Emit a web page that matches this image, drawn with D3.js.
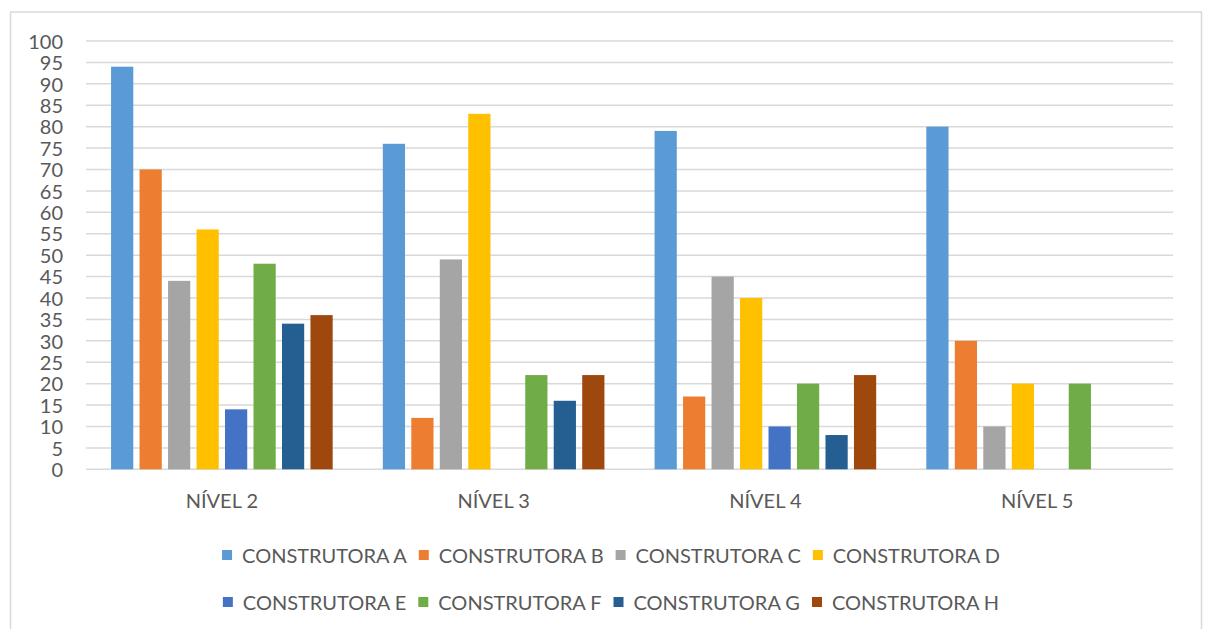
<!DOCTYPE html>
<html>
<head>
<meta charset="utf-8">
<script src="https://cdn.jsdelivr.net/npm/d3@7"></script>
<style>
  html, body { margin: 0; padding: 0; background: #ffffff; }
  svg { display: block; }
  text { font-family: Lato, "Open Sans", sans-serif; fill: #595959; }
</style>
</head>
<body>
<svg id="chart" width="1207" height="629"></svg>
<script>
// Categories (groups on the x axis)
const categories = ["NÍVEL 2", "NÍVEL 3", "NÍVEL 4", "NÍVEL 5"];

// Series names and colours
const seriesNames = [
  "CONSTRUTORA A", "CONSTRUTORA B", "CONSTRUTORA C", "CONSTRUTORA D",
  "CONSTRUTORA E", "CONSTRUTORA F", "CONSTRUTORA G", "CONSTRUTORA H"
];
const seriesColors = [
  "#5B9BD5", "#ED7D31", "#A5A5A5", "#FFC000",
  "#4472C4", "#70AD47", "#255E91", "#9E480E"
];

// Values per series, one entry per category (NÍVEL 2..5)
const construtoraA = [94, 76, 79, 80];
const construtoraB = [70, 12, 17, 30];
const construtoraC = [44, 49, 45, 10];
const construtoraD = [56, 83, 40, 20];
const construtoraE = [14, 0, 10, 0];
const construtoraF = [48, 22, 20, 20];
const construtoraG = [34, 16, 8, 0];
const construtoraH = [36, 22, 22, 0];

// Y axis ticks
const yTicks = [0, 5, 10, 15, 20, 25, 30, 35, 40, 45, 50, 55, 60, 65, 70, 75, 80, 85, 90, 95, 100];

const seriesValues = [
  construtoraA, construtoraB, construtoraC, construtoraD,
  construtoraE, construtoraF, construtoraG, construtoraH
];

const svg = d3.select("#chart");

// Outer chart frame
svg.append("rect")
  .attr("x", 10.5).attr("y", 12)
  .attr("width", 1191).attr("height", 640)
  .attr("fill", "none")
  .attr("stroke", "#d9d9d9")
  .attr("stroke-width", 1.5);

const plot = { left: 86, right: 1173, top: 41, bottom: 469.3 };

const x0 = d3.scaleBand()
  .domain(categories)
  .range([plot.left, plot.right])
  .paddingInner(0).paddingOuter(0);

const x1 = d3.scaleBand()
  .domain(seriesNames)
  .range([0, x0.bandwidth()])
  .paddingInner(0.22)
  .paddingOuter(0.88);

const y = d3.scaleLinear()
  .domain([0, 100])
  .range([plot.bottom, plot.top]);

// Horizontal gridlines
svg.append("g")
  .selectAll("line")
  .data(yTicks)
  .join("line")
  .attr("x1", plot.left).attr("x2", plot.right)
  .attr("y1", d => y(d)).attr("y2", d => y(d))
  .attr("stroke", "#d9d9d9")
  .attr("stroke-width", 1.5);

// Y axis tick labels
const yAxis = d3.axisLeft(y).tickValues(yTicks).tickSize(0).tickPadding(0);
const yG = svg.append("g")
  .attr("transform", "translate(63,0)")
  .call(yAxis);
yG.select(".domain").remove();
yG.selectAll("text")
  .attr("font-size", 20)
  .attr("font-family", "Lato, sans-serif")
  .attr("fill", "#595959")
  .attr("dy", "0.36em");

// Bars
const groups = svg.append("g")
  .selectAll("g")
  .data(categories)
  .join("g")
  .attr("transform", c => `translate(${x0(c)},0)`);

groups.selectAll("rect")
  .data((c, ci) => seriesNames.map((s, si) => ({ s, si, v: seriesValues[si][ci] })))
  .join("rect")
  .attr("x", d => x1(d.s))
  .attr("width", x1.bandwidth())
  .attr("y", d => y(d.v))
  .attr("height", d => y(0) - y(d.v))
  .attr("fill", d => seriesColors[d.si]);

// X axis category labels
const xAxis = d3.axisBottom(x0).tickSize(0).tickPadding(0);
const xG = svg.append("g")
  .attr("transform", "translate(0,508)")
  .call(xAxis);
xG.select(".domain").remove();
xG.selectAll("text")
  .attr("font-size", 20)
  .attr("font-family", "Lato, sans-serif")
  .attr("fill", "#595959")
  .attr("dy", 0);

// Legend: two rows of four entries, each row centred
const legendRows = [seriesNames.slice(0, 4), seriesNames.slice(4)];
const rowBaselines = [563, 610];
const swatch = 10, swatchGap = 10, entryGap = 12;
const legendCenter = 611;

legendRows.forEach((row, ri) => {
  const g = svg.append("g");
  const entries = row.map(name => {
    const eg = g.append("g");
    eg.append("rect")
      .attr("width", swatch).attr("height", swatch)
      .attr("y", rowBaselines[ri] - 13)
      .attr("fill", seriesColors[seriesNames.indexOf(name)]);
    const t = eg.append("text")
      .attr("x", swatch + swatchGap)
      .attr("y", rowBaselines[ri])
      .attr("font-size", 20)
      .text(name);
    return { eg, w: swatch + swatchGap + t.node().getComputedTextLength() };
  });
  const total = d3.sum(entries, e => e.w) + entryGap * (entries.length - 1);
  let cx = legendCenter - total / 2;
  entries.forEach(e => {
    e.eg.attr("transform", `translate(${cx},0)`);
    cx += e.w + entryGap;
  });
});
</script>
</body>
</html>
